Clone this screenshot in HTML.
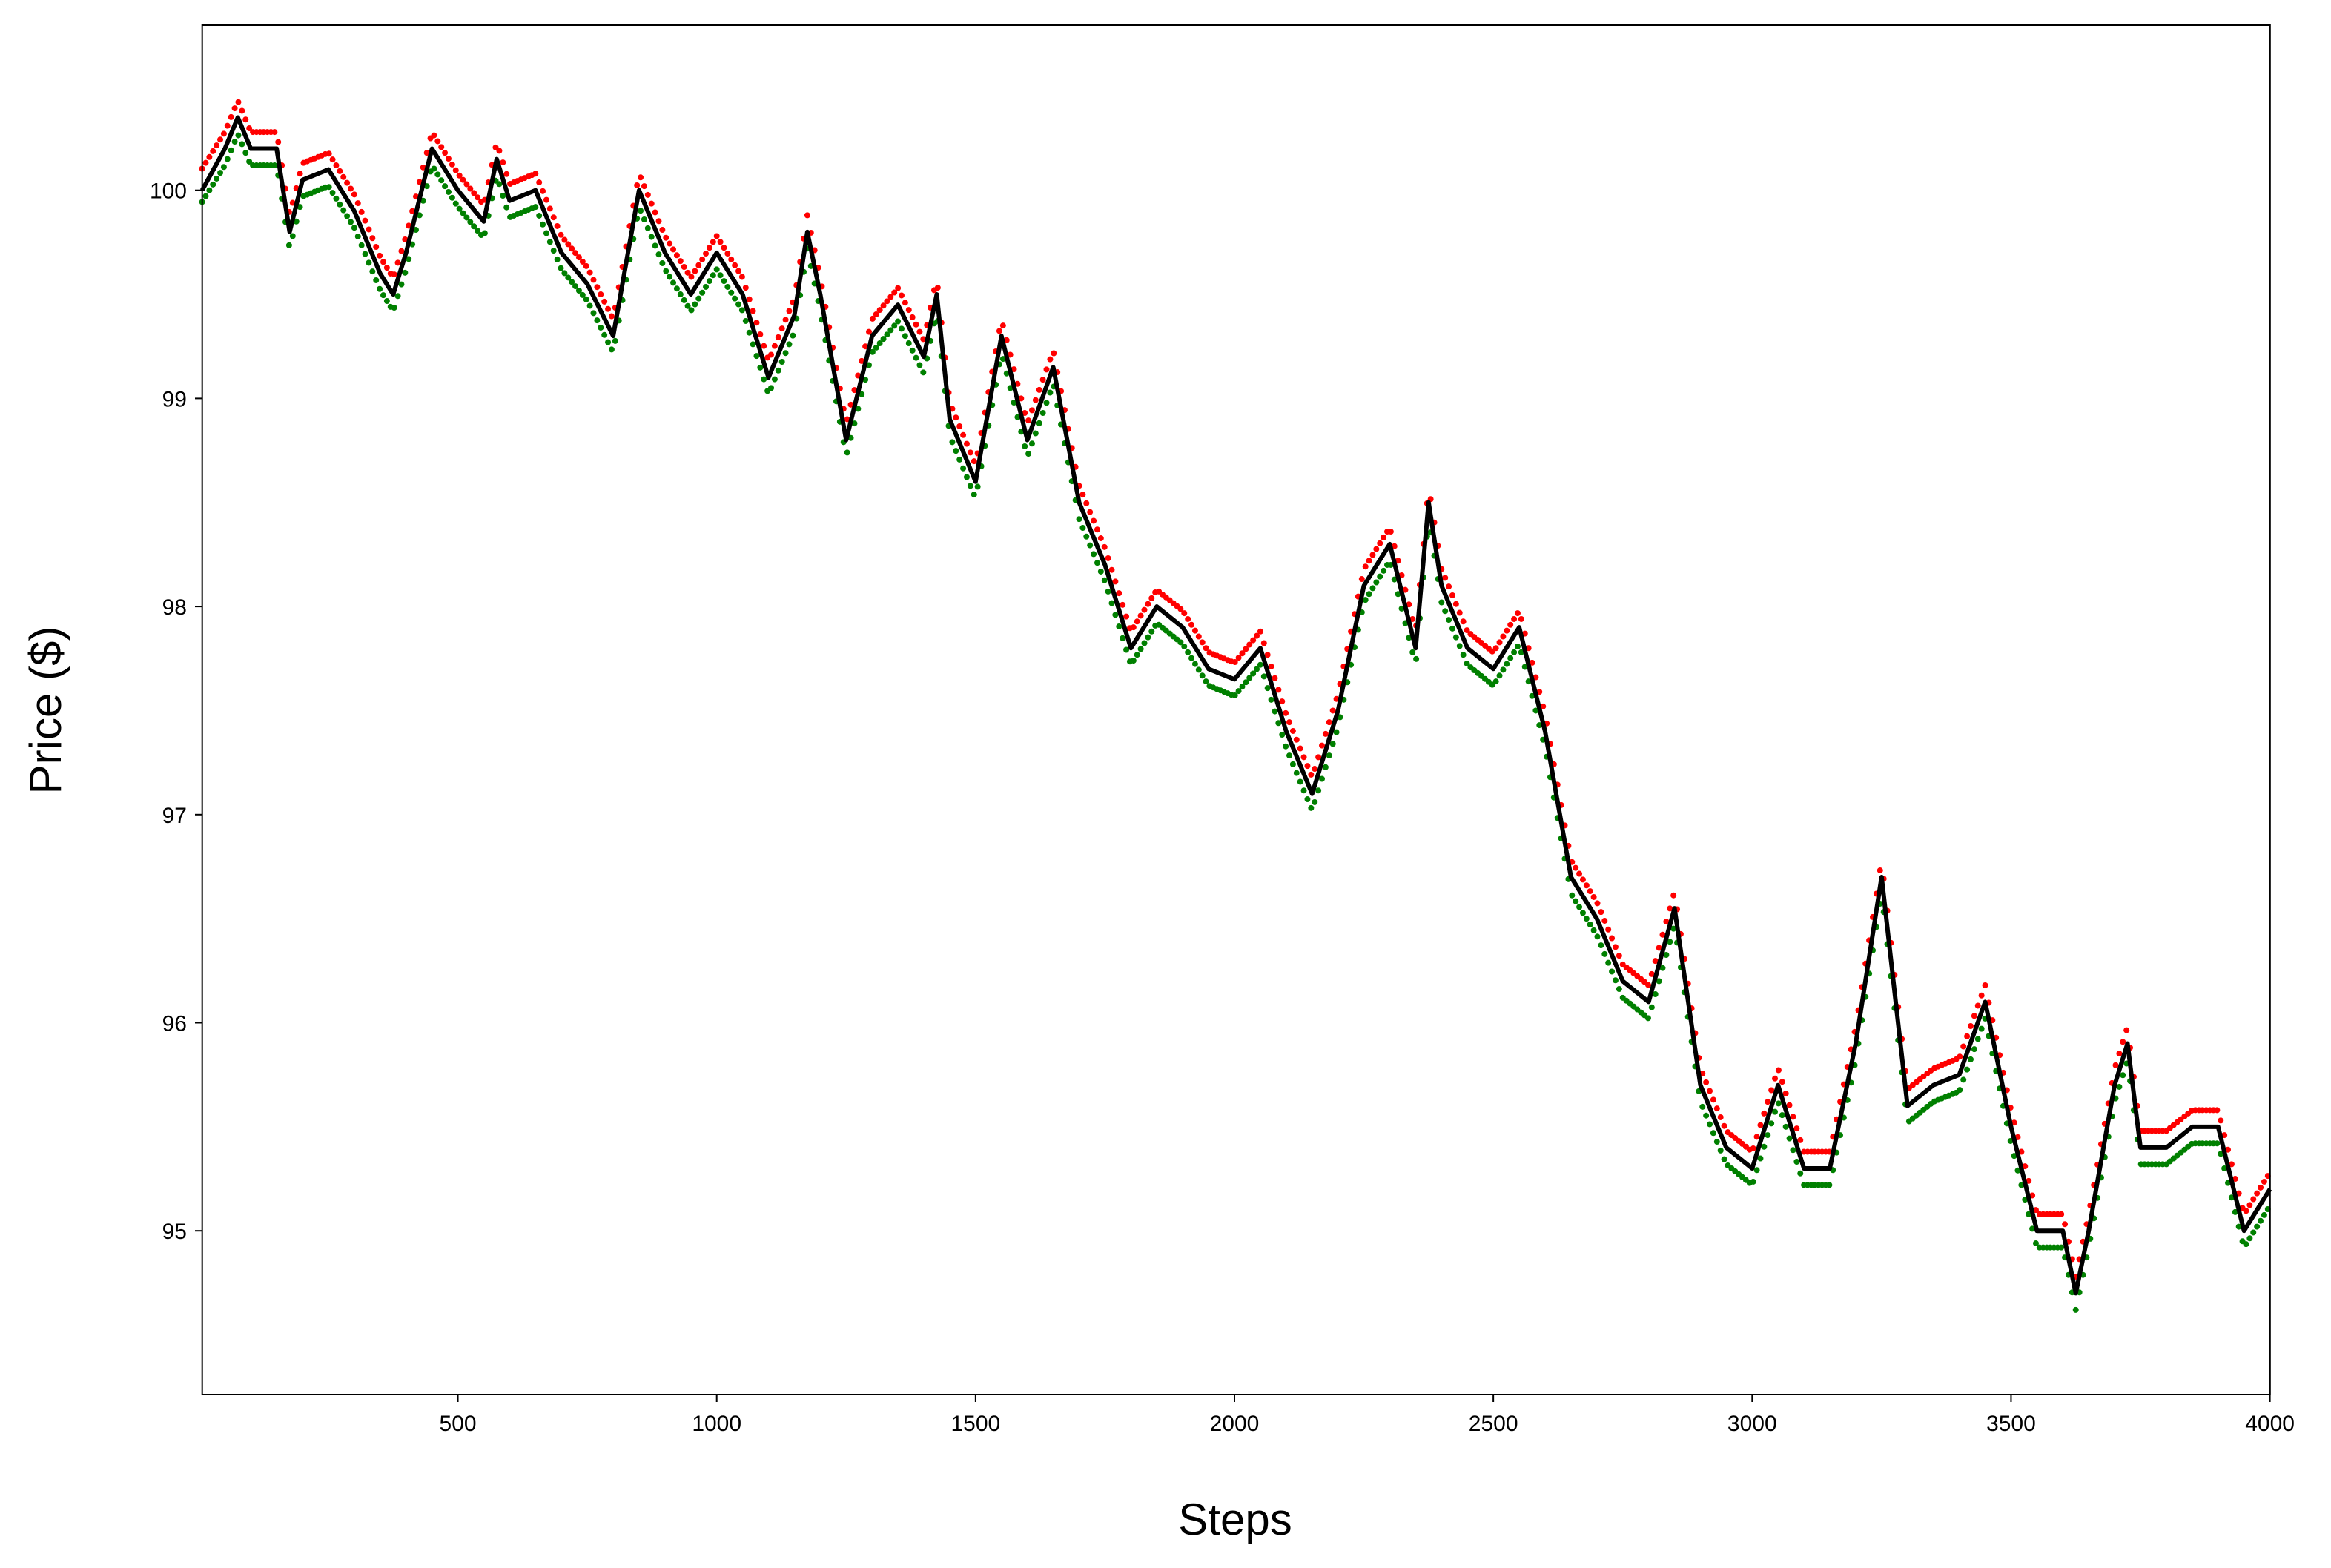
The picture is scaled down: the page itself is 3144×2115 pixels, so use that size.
<!DOCTYPE html>
<html><head><meta charset="utf-8"><style>
html,body{margin:0;padding:0;background:#fff}
svg{display:block}
text{font-family:"Liberation Sans","DejaVu Sans",sans-serif;fill:#000}
</style></head><body>
<svg id="chart" width="3144" height="2115" viewBox="0 0 3144 2115">
<rect x="0" y="0" width="3144" height="2115" fill="#fff"/>
<g id="marks"></g>
<rect x="272.7" y="34" width="2789.1" height="1847" fill="none" stroke="#000" stroke-width="2"/>
<g id="axes"></g>
<text x="1666" y="2070" font-size="60" text-anchor="middle">Steps</text>
<text transform="translate(82,958) rotate(-90)" font-size="60" text-anchor="middle">Price ($)</text>
</svg>
<script>
const steps = [0,50,75,100,150,175,200,250,300,350,375,400,450,500,550,575,600,650,700,750,800,850,900,950,1000,1050,1100,1150,1175,1200,1250,1300,1350,1400,1425,1450,1500,1550,1600,1650,1700,1750,1800,1850,1900,1950,2000,2050,2100,2150,2200,2250,2300,2350,2375,2400,2450,2500,2550,2600,2650,2700,2750,2800,2850,2900,2950,3000,3050,3100,3150,3200,3250,3300,3350,3400,3450,3500,3550,3600,3625,3650,3700,3725,3750,3800,3850,3900,3950,4000];
const prices = [100.0,100.2,100.35,100.2,100.2,99.8,100.05,100.1,99.9,99.6,99.5,99.7,100.2,100.0,99.85,100.15,99.95,100.0,99.7,99.55,99.3,100.0,99.7,99.5,99.7,99.5,99.1,99.4,99.8,99.5,98.8,99.3,99.45,99.2,99.5,98.9,98.6,99.3,98.8,99.15,98.5,98.2,97.8,98.0,97.9,97.7,97.65,97.8,97.4,97.1,97.5,98.1,98.3,97.8,98.5,98.1,97.8,97.7,97.9,97.4,96.7,96.5,96.2,96.1,96.55,95.7,95.4,95.3,95.7,95.3,95.3,95.9,96.7,95.6,95.7,95.75,96.1,95.5,95.0,95.0,94.7,95.0,95.7,95.9,95.4,95.4,95.5,95.5,95.0,95.2];
const xTicks = [500,1000,1500,2000,2500,3000,3500,4000];
const yTicks = [95,96,97,98,99,100];
const spread = 0.08;

const NS='http://www.w3.org/2000/svg';
const X = s => 268.4 + 0.6983*s;
const Y = p => 256.7 + (100-p)*280.7;
const marks=document.getElementById('marks');
const axes=document.getElementById('axes');

function valAt(s){
  for(let i=0;i<steps.length-1;i++){
    if(s>=steps[i]&&s<=steps[i+1]){const t=(s-steps[i])/(steps[i+1]-steps[i]);return prices[i]+t*(prices[i+1]-prices[i]);}
  }
  return prices[prices.length-1];
}
function dot(s,p,c,name){
  const d=document.createElementNS(NS,'circle');
  d.setAttribute('cx',X(s));d.setAttribute('cy',Y(p));d.setAttribute('r',4);d.setAttribute('fill',c);
  
  
  marks.appendChild(d);
}
for(let s=steps[0]+6;s<=steps[steps.length-1];s+=7){
  const v=valAt(s);
  dot(s,v+spread,'#ff0000','ask-dot');
  dot(s,v-spread,'#008000','bid-dot');
}
const line=document.createElementNS(NS,'polyline');
line.setAttribute('points',steps.map((s,i)=>X(Math.max(s,6))+','+Y(prices[i])).join(' '));
line.setAttribute('fill','none');line.setAttribute('stroke','#000');line.setAttribute('stroke-width','6');line.setAttribute('stroke-linejoin','round');


marks.appendChild(line);

xTicks.forEach(t=>{
  const l=document.createElementNS(NS,'line');
  l.setAttribute('x1',X(t));l.setAttribute('x2',X(t));l.setAttribute('y1',1881);l.setAttribute('y2',1891);l.setAttribute('stroke','#000');l.setAttribute('stroke-width','2');
  
  
  axes.appendChild(l);
  const tx=document.createElementNS(NS,'text');
  tx.setAttribute('x',X(t));tx.setAttribute('y',1930);tx.setAttribute('font-size','30');tx.setAttribute('text-anchor','middle');
  tx.textContent=t;
  
  
  axes.appendChild(tx);
});
yTicks.forEach(t=>{
  const l=document.createElementNS(NS,'line');
  l.setAttribute('x1',263);l.setAttribute('x2',272.7);l.setAttribute('y1',Y(t));l.setAttribute('y2',Y(t));l.setAttribute('stroke','#000');l.setAttribute('stroke-width','2');
  
  
  axes.appendChild(l);
  const tx=document.createElementNS(NS,'text');
  tx.setAttribute('x',252);tx.setAttribute('y',Y(t)+11);tx.setAttribute('font-size','30');tx.setAttribute('text-anchor','end');
  tx.textContent=t;
  
  
  axes.appendChild(tx);
});
</script>
</body></html>
